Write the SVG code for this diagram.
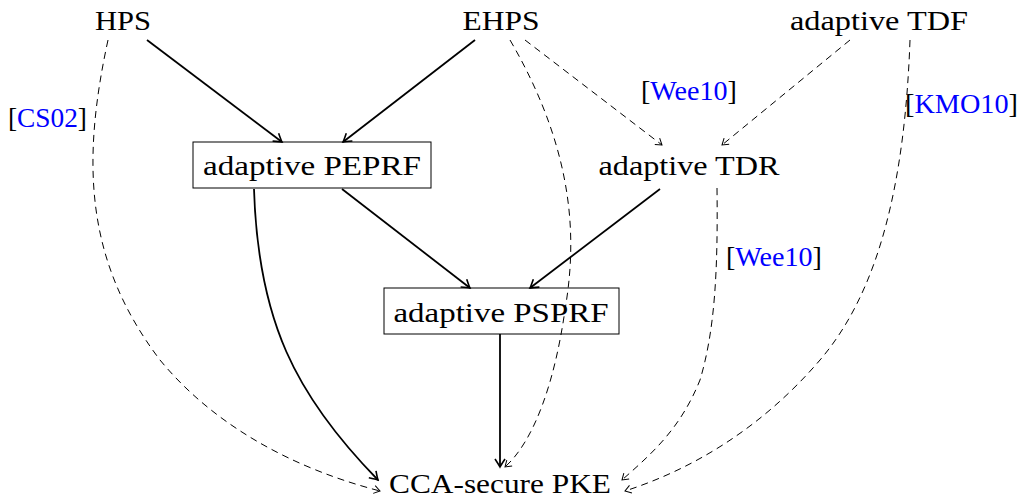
<svg xmlns="http://www.w3.org/2000/svg" width="1021" height="499" viewBox="0 0 1021 499">
<style>
text{font-family:"Liberation Serif","DejaVu Serif",serif;font-size:27px;fill:#000}
.c{fill:#0000ff}
.box{fill:none;stroke:#000;stroke-width:1}
.s{fill:none;stroke:#000;stroke-width:1.8}
.d{fill:none;stroke:#000;stroke-width:1;stroke-dasharray:7,5}
</style>
<defs>
<marker id="as" markerUnits="userSpaceOnUse" viewBox="-10 -6 12 12" refX="0" refY="0" markerWidth="12" markerHeight="12" orient="auto">
<path d="M-8,-5 Q-2,-1 0,0 Q-2,1 -8,5" fill="none" stroke="#000" stroke-width="1.6"/>
</marker>
<marker id="ad" markerUnits="userSpaceOnUse" viewBox="-10 -6 12 12" refX="0" refY="0" markerWidth="12" markerHeight="12" orient="auto">
<path d="M-6,-4 Q-1.5,-1 0,0 Q-1.5,1 -6,4" fill="none" stroke="#000" stroke-width="1"/>
</marker>
</defs>
<g id="connectors">
<path class="s" d="M147,40 L282,142" marker-end="url(#as)"/>
<path class="s" d="M475,40 L343,142" marker-end="url(#as)"/>
<path class="s" d="M342,189 L470,288" marker-end="url(#as)"/>
<path class="s" d="M660,189 L530,288" marker-end="url(#as)"/>
<path class="s" d="M500,334 L500,467" marker-end="url(#as)"/>
<path class="s" d="M254,189 C258,320 295,395 378,480" marker-end="url(#as)"/>
<path class="d" d="M108,40 C82,160 84,260 160,360 C230,445 330,478 380,491" marker-end="url(#ad)"/>
<path class="d" d="M510,40 C580,160 575,250 565,310 C555,380 535,440 505,467" marker-end="url(#ad)"/>
<path class="d" d="M525,40 L662,145" marker-end="url(#ad)"/>
<path class="d" d="M850,40 L722,145" marker-end="url(#ad)"/>
<path class="d" d="M717,188 C718,270 715,330 700,380 C680,430 650,455 622,480" marker-end="url(#ad)"/>
<path class="d" d="M910,40 C905,180 880,290 820,360 C760,430 690,470 625,491" marker-end="url(#ad)"/>
</g>
<g id="HPS"><text x="123" y="30" text-anchor="middle" textLength="56" lengthAdjust="spacingAndGlyphs">HPS</text></g>
<g id="EHPS"><text x="501" y="30" text-anchor="middle" textLength="77" lengthAdjust="spacingAndGlyphs">EHPS</text></g>
<g id="TDF"><text x="879" y="30" text-anchor="middle" textLength="178" lengthAdjust="spacingAndGlyphs">adaptive TDF</text></g>
<g id="PEPRF"><rect class="box" x="193" y="142" width="238" height="46"/><text x="312" y="175" text-anchor="middle" textLength="218" lengthAdjust="spacingAndGlyphs">adaptive PEPRF</text></g>
<g id="TDR"><text x="689" y="175" text-anchor="middle" textLength="181" lengthAdjust="spacingAndGlyphs">adaptive TDR</text></g>
<g id="PSPRF"><rect class="box" x="384" y="288" width="235" height="46"/><text x="501" y="322" text-anchor="middle" textLength="215" lengthAdjust="spacingAndGlyphs">adaptive PSPRF</text></g>
<g id="PKE"><text x="500" y="493" text-anchor="middle" font-size="26" textLength="222" lengthAdjust="spacingAndGlyphs">CCA-secure PKE</text></g>
<g id="labels">
<text x="8" y="127" textLength="79" lengthAdjust="spacingAndGlyphs">[<tspan class="c">CS02</tspan>]</text>
<text x="641" y="100" textLength="96" lengthAdjust="spacingAndGlyphs">[<tspan class="c">Wee10</tspan>]</text>
<text x="905" y="113" textLength="113" lengthAdjust="spacingAndGlyphs">[<tspan class="c">KMO10</tspan>]</text>
<text x="726" y="266" textLength="96" lengthAdjust="spacingAndGlyphs">[<tspan class="c">Wee10</tspan>]</text>
</g>
</svg>
